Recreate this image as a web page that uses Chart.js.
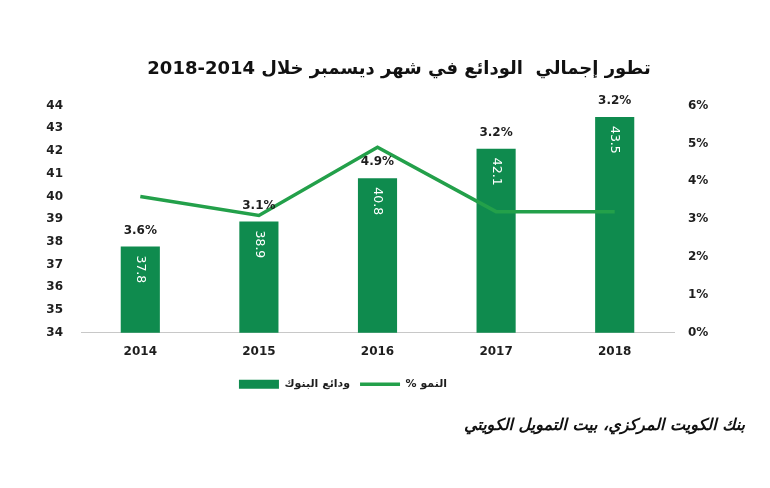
<!DOCTYPE html>
<html>
<head>
<meta charset="utf-8">
<script src="https://cdn.jsdelivr.net/npm/chart.js@4"></script>
<style>
  html, body { margin: 0; padding: 0; background: #fff; }
</style>
</head>
<body>
<canvas id="depositsChart" width="770" height="488"></canvas>
<script>
const years = ["2014", "2015", "2016", "2017", "2018"];
const deposits = [37.8, 38.9, 40.8, 42.1, 43.5];
const growth = [3.6, 3.1, 4.9, 3.2, 3.2];

const barColor = "#0f8b4e";
const lineColor = "#23a04a";
const textColor = "#1e1e1e";
const fontFamily = '"DejaVu Sans", sans-serif';

// labels on the bars: growth % above, deposit value rotated inside
const barLabels = {
  id: "barLabels",
  afterDatasetsDraw(chart) {
    const ctx = chart.ctx;
    const bars = chart.getDatasetMeta(0).data;
    ctx.save();
    bars.forEach((bar, i) => {
      ctx.font = "bold 12px " + fontFamily;
      ctx.fillStyle = textColor;
      ctx.textAlign = "center";
      ctx.textBaseline = "middle";
      ctx.fillText(growth[i].toFixed(1) + "%", bar.x, bar.y - 16);

      ctx.save();
      ctx.translate(bar.x, bar.y + 9);
      ctx.rotate(Math.PI / 2);
      ctx.font = "12.5px " + fontFamily;
      ctx.fillStyle = "#ffffff";
      ctx.textAlign = "left";
      ctx.textBaseline = "middle";
      ctx.fillText(deposits[i].toFixed(1), 0, 0);
      ctx.restore();
    });
    ctx.restore();
  }
};

// nudge legend left and title right, as in the original
const boxShift = {
  id: "boxShift",
  afterLayout(chart) {
    chart.legend.left -= 50;
    chart.legend.right -= 50;
    chart.titleBlock.left += 6;
    chart.titleBlock.right += 6;
  }
};

new Chart("depositsChart", {
  type: "bar",
  data: {
    labels: years,
    datasets: [{
      type: "bar",
      label: "ودائع البنوك",
      data: deposits,
      backgroundColor: barColor,
      borderColor: barColor,
      borderWidth: 0,
      barPercentage: 0.33,
      categoryPercentage: 1,
      yAxisID: "y",
      order: 1
    }, {
      type: "line",
      label: "% النمو",
      data: growth,
      borderColor: lineColor,
      backgroundColor: lineColor,
      borderWidth: 3.5,
      pointRadius: 0,
      tension: 0,
      fill: false,
      yAxisID: "y1",
      order: 0
    }]
  },
  options: {
    responsive: false,
    animation: false,
    layout: {
      padding: { left: 41, right: 25, top: 0, bottom: 53 }
    },
    scales: {
      x: {
        grid: { display: false, drawTicks: false },
        border: { display: true, color: "#c8c8c8", width: 1 },
        ticks: {
          color: textColor,
          padding: 12,
          font: { family: fontFamily, size: 12, weight: "bold" }
        },
        afterFit: (s) => { s.height = 36; }
      },
      y: {
        position: "left",
        min: 34,
        max: 44,
        grid: { display: false, drawTicks: false },
        border: { display: false },
        ticks: {
          stepSize: 1,
          color: textColor,
          padding: 18,
          font: { family: fontFamily, size: 12, weight: "bold" }
        },
        afterFit: (s) => { s.width = 40; }
      },
      y1: {
        position: "right",
        min: 0,
        max: 6,
        grid: { display: false, drawTicks: false },
        border: { display: false },
        ticks: {
          stepSize: 1,
          color: textColor,
          padding: 14,
          font: { family: fontFamily, size: 12, weight: "bold" },
          callback: (v) => v + "%"
        },
        afterFit: (s) => { s.width = 71; }
      }
    },
    plugins: {
      tooltip: { enabled: false },
      title: {
        display: true,
        text: "2018-2014 تطور إجمالي  الودائع في شهر ديسمبر خلال",
        color: "#111",
        font: { family: fontFamily, size: 18, weight: "bold" },
        padding: { top: 59, bottom: 25 }
      },
      subtitle: {
        display: true,
        position: "bottom",
        align: "end",
        text: "بنك الكويت المركزي، بيت التمويل الكويتي",
        color: "#111",
        font: { family: fontFamily, size: 16, weight: "bold", style: "italic" },
        padding: { top: 16, bottom: 0 }
      },
      legend: {
        display: true,
        position: "bottom",
        labels: {
          usePointStyle: true,
          pointStyleWidth: 40,
          boxHeight: 9,
          padding: 10,
          color: textColor,
          font: { family: fontFamily, size: 11, weight: "bold" },
          sort: (a, b) => a.datasetIndex - b.datasetIndex,
          generateLabels(chart) {
            const items = Chart.defaults.plugins.legend.labels.generateLabels(chart);
            items.forEach((it) => {
              it.pointStyle = chart.data.datasets[it.datasetIndex].type === "line" ? "line" : "rect";
            });
            return items;
          }
        }
      }
    }
  },
  plugins: [barLabels, boxShift]
});
</script>
</body>
</html>
